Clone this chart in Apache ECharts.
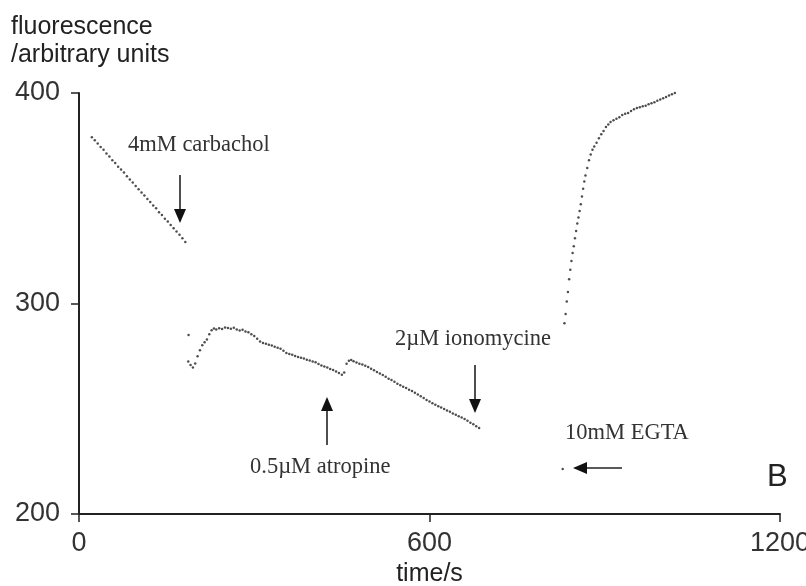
<!DOCTYPE html>
<html>
<head>
<meta charset="utf-8">
<script src="https://cdn.jsdelivr.net/npm/echarts@6/dist/echarts.min.js"></script>
<style>
html,body{margin:0;padding:0;background:#fff;}
#chart{width:806px;height:586px;}
</style>
</head>
<body>
<div id="chart"></div>
<script>
// ---- data (time in s, fluorescence in arbitrary units) ----
var xTicks = [0, 600, 1200];
var yTicks = [200, 300, 400];

var baseline = [
  [22,379.0],[27,377.6],[32,376.0],[37,374.3],[42,373.0],[47,371.2],[52,369.8],[57,368.1],
  [62,366.7],[67,365.0],[72,363.6],[77,362.2],[82,360.4],[87,358.9],[92,357.5],[97,355.8],
  [102,354.3],[107,352.7],[112,351.3],[117,349.6],[122,348.2],[127,346.5],[132,345.2],[137,343.4],
  [142,342.0],[147,340.3],[152,339.0],[157,337.3],[162,335.8],[167,334.2],[172,332.7],[177,331.0],[182,329.2]
];

var carbacholPhase = [
  [187,272.5],[191,270.8],[195,269.6],[199,271.5],[203,275.0],[207,277.8],[211,280.2],[215,281.6],
  [219,282.9],[223,285.4],[227,287.3],[231,288.1],[235,287.6],[240,288.3],[245,287.9],[250,288.6],
  [255,288.4],[260,288.0],[265,288.5],[270,287.6],[275,287.2],[280,287.5],[285,286.7],[290,286.3],
  [295,285.4],[300,284.6],[305,283.3],[310,282.0],[315,281.2],[320,280.9],[325,280.4],[330,280.0],
  [335,279.4],[340,279.0],[345,278.5],[350,277.6],[355,276.5],[360,276.0],[365,275.6],[370,275.1],
  [375,274.6],[380,274.2],[385,273.9],[390,273.3],[395,272.9],[400,272.5],[405,272.1],[410,271.2],
  [415,270.6],[420,270.1],[425,269.6],[430,268.9],[435,268.4],[440,267.7],[445,267.0],[450,266.1],
  [454,267.2],[458,271.4],[462,272.8],[466,273.2],[470,272.6],[475,272.0],[480,271.4],[485,271.0],
  [490,270.4],[495,269.8],[500,269.0],[505,268.3],[510,267.5],[515,266.8],[520,266.0],[525,265.2],
  [530,264.3],[535,263.6],[540,262.8],[545,261.9],[550,261.2],[555,260.5],[560,259.8],[565,259.0],
  [570,258.4],[575,257.6],[580,256.8],[585,255.9],[590,255.1],[595,254.2],[600,253.4],[605,252.6],
  [610,251.9],[615,251.2],[620,250.6],[625,249.9],[630,249.2],[635,248.6],[640,247.8],[645,247.1],
  [650,246.4],[655,245.8],[660,245.1],[665,244.3],[670,243.4],[675,242.6],[680,241.7],[685,240.9]
];

var ionomycinPhase = [
  [831,290.6],[833,295.0],[835,301.0],[837,305.5],[839,311.5],[841,316.0],[843,320.2],[845,324.0],
  [847,327.2],[849,331.0],[851,334.5],[853,338.0],[855,340.8],[857,344.0],[859,347.2],[861,350.8],
  [863,354.5],[865,357.9],[867,360.8],[870,364.4],[873,368.0],[876,370.8],[879,373.0],[882,374.6],
  [886,376.4],[890,378.5],[894,380.4],[898,382.0],[902,383.8],[906,385.0],[910,386.2],[915,387.1],
  [920,387.8],[925,388.5],[930,389.5],[935,390.1],[940,390.5],[945,391.4],[950,392.3],[955,392.9],
  [960,393.2],[965,393.7],[970,393.9],[975,394.6],[980,395.1],[985,395.6],[990,396.3],[995,396.9],
  [1000,397.5],[1005,398.1],[1010,398.8],[1015,399.4],[1020,400.0],[1025,400.2],[1030,400.3],[1035,400.1],[1040,400.3]
];

var singlePoints = [[187.5,285.0],[828,221.4]];

// ---- chart ----
var chart = echarts.init(document.getElementById('chart'));
var axisColor = '#222';
var tickFont = {fontFamily: 'Liberation Sans', fontSize: 27, color: '#333'};

function arrow(x1, y1, x2, y2) {
  var dx = x2 - x1, dy = y2 - y1, len = Math.sqrt(dx*dx+dy*dy);
  var ux = dx/len, uy = dy/len, hl = 14, hw = 6;
  var bx = x2 - ux*hl, by = y2 - uy*hl;
  return [
    {type:'line', shape:{x1:x1,y1:y1,x2:bx,y2:by}, style:{stroke:'#222', lineWidth:1.6}},
    {type:'polygon', shape:{points:[[x2,y2],[bx - uy*hw, by + ux*hw],[bx + uy*hw, by - ux*hw]]}, style:{fill:'#111'}}
  ];
}

var serifFont = '22.5px "Liberation Serif"';
var graphics = [
  {type:'text', x:11, y:27, style:{text:'fluorescence', font:'25px "Liberation Sans"', fill:'#222', verticalAlign:'middle'}},
  {type:'text', x:11, y:55, style:{text:'/arbitrary units', font:'25px "Liberation Sans"', fill:'#222', verticalAlign:'middle'}},
  {type:'text', x:128, y:145, style:{text:'4mM carbachol', font:serifFont, fill:'#333', verticalAlign:'middle'}},
  {type:'text', x:395, y:339, style:{text:'2\u00b5M ionomycine', font:serifFont, fill:'#333', verticalAlign:'middle'}},
  {type:'text', x:250, y:467, style:{text:'0.5\u00b5M atropine', font:serifFont, fill:'#333', verticalAlign:'middle'}},
  {type:'text', x:565, y:433, style:{text:'10mM EGTA', font:serifFont, fill:'#333', verticalAlign:'middle'}},
  {type:'text', x:767, y:477, style:{text:'B', font:'31px "Liberation Sans"', fill:'#222', verticalAlign:'middle'}}
].concat(arrow(180,175,180,223), arrow(475,365,475,413), arrow(327,445,327,397), arrow(622,468,573,468));

var option = {
  animation: false,
  backgroundColor: '#fff',
  grid: {left: 79, right: 26, top: 93, bottom: 72, containLabel: false, outerBoundsMode: 'none'},
  xAxis: {
    type: 'value', min: xTicks[0], max: xTicks[2], interval: 600,
    name: 'time/s', nameLocation: 'middle', nameGap: 48,
    nameTextStyle: {fontFamily: 'Liberation Sans', fontSize: 25, color: '#222', verticalAlign: 'top'},
    axisLine: {lineStyle: {color: axisColor, width: 2}},
    axisTick: {show: true, inside: false, length: 8, lineStyle: {color: axisColor, width: 1.5}},
    axisLabel: Object.assign({margin: 16, formatter: function (v) { return String(v); }}, tickFont),
    splitLine: {show: false}
  },
  yAxis: {
    type: 'value', min: yTicks[0], max: yTicks[2], interval: 100,
    axisLine: {show: true, lineStyle: {color: axisColor, width: 2}},
    axisTick: {show: true, inside: false, length: 8, lineStyle: {color: axisColor, width: 1.5}},
    axisLabel: Object.assign({margin: 19, formatter: function (v) { return String(v); }}, tickFont),
    splitLine: {show: false}
  },
  series: [
    {type:'scatter', data: baseline, symbolSize: 2.5, itemStyle:{color:'#222'}, silent:true},
    {type:'scatter', data: carbacholPhase, symbolSize: 2.5, itemStyle:{color:'#222'}, silent:true},
    {type:'scatter', data: ionomycinPhase, symbolSize: 2.5, itemStyle:{color:'#222'}, silent:true},
    {type:'scatter', data: singlePoints, symbolSize: 2.5, itemStyle:{color:'#222'}, silent:true}
  ],
  graphic: graphics
};
chart.setOption(option);
</script>
</body>
</html>
